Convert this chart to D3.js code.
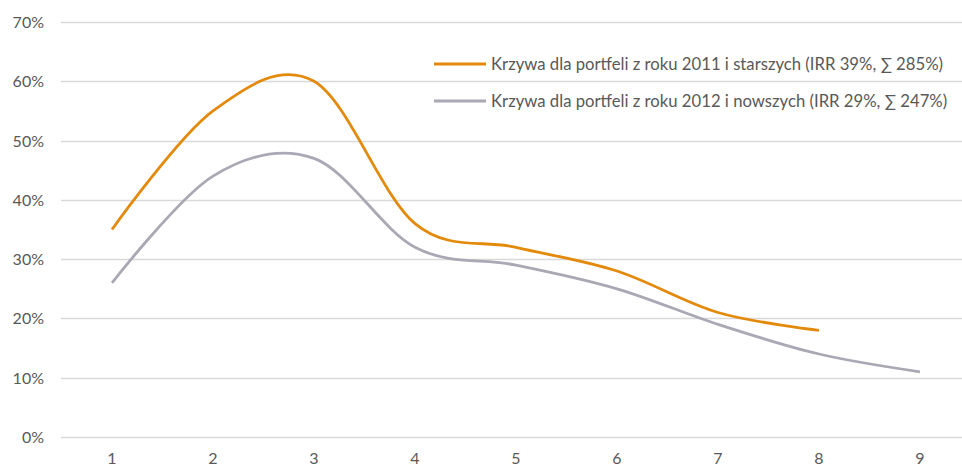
<!DOCTYPE html>
<html>
<head>
<meta charset="utf-8">
<script src="https://cdn.jsdelivr.net/npm/d3@7"></script>
<style>
  body { margin: 0; background: #fff; }
  text { font-family: Lato, "Open Sans", sans-serif; fill: #595959; }
</style>
</head>
<body>
<script>
var categories = ["1", "2", "3", "4", "5", "6", "7", "8", "9"];
var olderValues = [35, 55, 60, 36, 32, 28, 21, 18];
var newerValues = [26, 44, 47, 32, 29, 25, 19, 14, 11];
var yTicks = [0, 10, 20, 30, 40, 50, 60, 70];
var seriesNames = [
  "Krzywa dla portfeli z roku 2011 i starszych (IRR 39%, \u2211 285%)",
  "Krzywa dla portfeli z roku 2012 i nowszych (IRR 29%, \u2211 247%)"
];

var series = [
  { name: seriesNames[0], values: olderValues, color: "#E38A0C" },
  { name: seriesNames[1], values: newerValues, color: "#A9A8B4" }
];

var width = 962, height = 468;

var svg = d3.select("body").append("svg")
    .attr("width", width)
    .attr("height", height);

var x = d3.scaleBand()
    .domain(categories)
    .range([61.5, 970.5]);

var y = d3.scaleLinear()
    .domain([0, 70])
    .range([437, 22]);

// gridlines
svg.append("g")
  .selectAll("line")
  .data(yTicks)
  .enter().append("line")
    .attr("x1", 61)
    .attr("x2", width)
    .attr("y1", function(d) { return Math.round(y(d)) + 0.5; })
    .attr("y2", function(d) { return Math.round(y(d)) + 0.5; })
    .style("stroke", "#D9D9D9")
    .style("stroke-width", 1.3);

// y labels
svg.append("g")
  .selectAll("text")
  .data(yTicks)
  .enter().append("text")
    .attr("x", 44)
    .attr("y", function(d) { return y(d) + 6; })
    .attr("text-anchor", "end")
    .style("font-size", "16px")
    .text(function(d) { return d + "%"; });

// x labels, close to the bottom edge as in the original
svg.append("g")
  .selectAll("text")
  .data(categories)
  .enter().append("text")
    .attr("x", function(d) { return x(d) + x.bandwidth() / 2; })
    .attr("y", 464)
    .attr("text-anchor", "middle")
    .style("font-size", "16px")
    .text(function(d) { return d; });

var line = d3.line()
    .x(function(d, i) { return x(categories[i]) + x.bandwidth() / 2; })
    .y(function(d) { return y(d); })
    .curve(d3.curveCardinal.tension(0));

svg.append("g")
  .selectAll("path")
  .data(series.slice().reverse())
  .enter().append("path")
    .attr("d", function(d) { return line(d.values); })
    .style("fill", "none")
    .style("stroke", function(d) { return d.color; })
    .style("stroke-width", 2.8)
    .style("stroke-linejoin", "round");

// legend
var legend = svg.append("g")
  .selectAll("g")
  .data(series)
  .enter().append("g")
    .attr("transform", function(d, i) { return "translate(434," + (64 + i * 37) + ")"; });

legend.append("line")
    .attr("x1", 0).attr("x2", 52)
    .attr("y1", 0).attr("y2", 0)
    .style("stroke", function(d) { return d.color; })
    .style("stroke-width", 2.8);

legend.append("text")
    .attr("x", 57)
    .attr("y", 6)
    .style("font-size", "16.7px")
    .text(function(d) { return d.name; });
</script>
</body>
</html>
